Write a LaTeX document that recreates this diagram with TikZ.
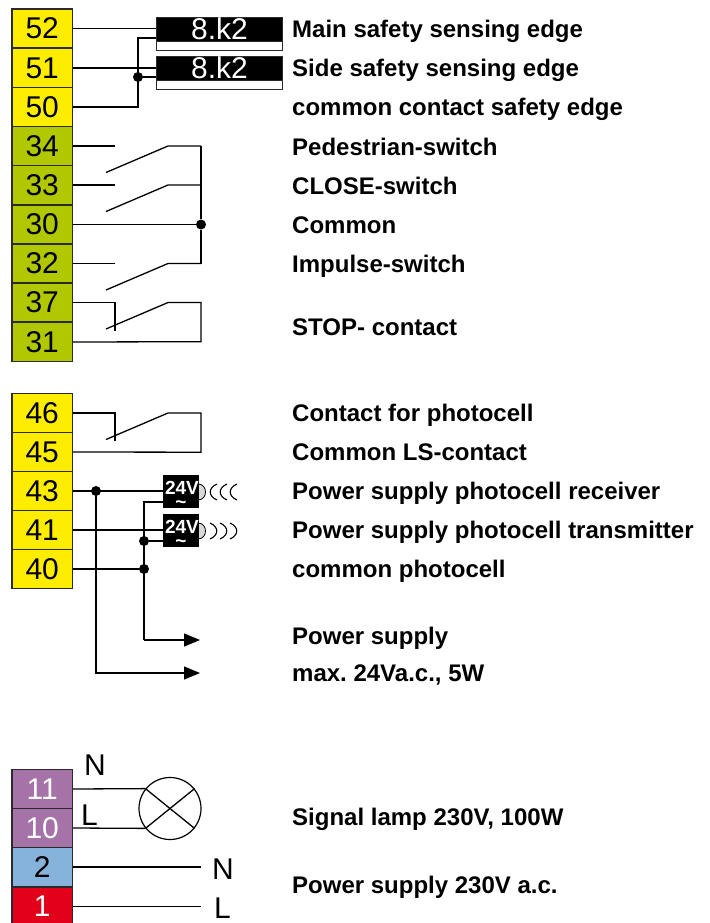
\documentclass[tikz,border=0pt]{standalone}
\usepackage{fontspec}
\setmainfont{Liberation Sans}
\usetikzlibrary{arrows.meta}
\definecolor{tyellow}{HTML}{FFED00}
\definecolor{tolive}{HTML}{B1C800}
\definecolor{tpurple}{HTML}{A573A8}
\definecolor{tblue}{HTML}{85B3DC}
\definecolor{tred}{HTML}{E2001A}
\definecolor{edge}{HTML}{2A2A2A}
\frenchspacing
\tikzset{
  wire/.style={draw=black,line width=1.3pt,line join=miter},
  term/.style={draw=edge,line width=1.2pt,minimum width=60.5pt,minimum height=39pt,inner sep=0pt,
    font=\fontsize{30}{30}\selectfont,anchor=center},
  lbl/.style={anchor=base west,inner sep=0pt,font=\fontsize{24}{24}\bfseries\selectfont},
  big/.style={inner sep=0pt,anchor=base west,font=\fontsize{30}{30}\selectfont},
  jn/.style={circle,fill=black,inner sep=0pt,minimum size=10pt},
  res/.style={draw=edge,fill=black,text=white,line width=1pt,minimum width=126pt,minimum height=24pt,inner sep=0pt,
    font=\fontsize{30}{24}\selectfont,anchor=north west,text height=20pt,text depth=0pt},
  resb/.style={draw=edge,fill=white,line width=1pt,minimum width=126pt,minimum height=9pt,inner sep=0pt,anchor=north west},
  psu/.style={fill=black,text=white,minimum width=36pt,minimum height=33pt,inner sep=0pt,anchor=north west},
  psut/.style={text=white,inner sep=0pt,anchor=base,font=\fontsize{19}{19}\bfseries\selectfont},
  arr/.style={wire,-{Triangle[length=16pt,width=13pt]}},
  wave/.style={draw=black,line width=1.1pt}
}
\begin{document}
\begin{tikzpicture}[x=1pt,y=-1pt]
\useasboundingbox (0,0) rectangle (709,923);
% terminals
\foreach \n/\yc/\col/\tc in {52/28.5/tyellow/black,51/68/tyellow/black,50/107/tyellow/black,
  34/146/tolive/black,33/185/tolive/black,30/224.5/tolive/black,32/263.5/tolive/black,37/302.5/tolive/black,31/342/tolive/black,
  46/413/tyellow/black,45/452/tyellow/black,43/491/tyellow/black,41/530/tyellow/black,40/569/tyellow/black,
  11/789/tpurple/white,10/828/tpurple/white,2/867/tblue/black,1/906.5/tred/white}
  {\node[term,fill=\col,text=\tc] (t\n) at (42.25,\yc) {\n};}
% resistors
\node[resb] (r1b) at (156,41) {};
\node[res] (r1) at (156,17) {8.k2};
\node[resb] (r2b) at (156,80) {};
\node[res] (r2) at (156,56) {8.k2};
% junctions and corners
\node[jn] (j1) at (138,77) {};
\node[jn] (j2) at (201,224.5) {};
\node[jn] (j3) at (96,491) {};
\node[jn] (j4) at (144,541) {};
\node[jn] (j5) at (144,569) {};
\coordinate (c1) at (138,107);
\coordinate (c2) at (138,38);
\coordinate (c3) at (156,38);
\coordinate (c4) at (156,77);
% contacts
\foreach \n/\y in {34/146,33/185,32/263.5}{
  \coordinate (s\n) at (115,\y);
  \coordinate (b\n) at (106,\y+26.5);
  \coordinate (h\n) at (168,\y);
  \coordinate (e\n) at (201,\y);
  \draw[wire] (t\n.east) -- (s\n);
  \draw[wire] (b\n) -- (h\n) -- (e\n);
}
\draw[wire] (e34) -- (j2) -- (e32);
\draw[wire] (t30.east) -- (j2);
\foreach \a/\b/\y in {37/31/302.5,46/45/413}{
  \coordinate (s\a) at (115,\y);
  \coordinate (d\a) at (115,\y+28);
  \coordinate (b\a) at (106,\y+26.5);
  \coordinate (h\a) at (168,\y);
  \coordinate (e\a) at (201,\y);
  \coordinate (f\a) at (201,\y+39.2);
  \draw[wire] (t\a.east) -- (s\a) -- (d\a);
  \draw[wire] (b\a) -- (h\a) -- (e\a) -- (f\a) -- (t\b.east);
}
% safety edge wires
\draw[wire] (t52.east) -- (t52.east -| r1.west);
\draw[wire] (t51.east) -- (t51.east -| r2.west);
\draw[wire] (t50.east) -- (c1) -- (c2) -- (c3);
\draw[wire] (j1) -- (c4);
% emitter / receiver symbols
\draw[draw=black,fill=black!15,line width=.8pt] (197,484) -- (198,484) .. controls (208,484) and (208,500) .. (198,500) -- (197,500) -- cycle;
\draw[draw=black,fill=black!15,line width=.8pt] (197,523) -- (198,523) .. controls (208,523) and (208,539) .. (198,539) -- (197,539) -- cycle;
\foreach \x in {217,227,237}
  \draw[wave] (\x,484) .. controls (\x-9,488) and (\x-9,496) .. (\x,500);
\foreach \x in {210,220,230}
  \draw[wave] (\x,523) .. controls (\x+9,527) and (\x+9,535) .. (\x,539);
% photocell blocks
\node[psu] (p1) at (163,475) {};
\node[psu] (p2) at (163,514) {};
\node[psut] (p1t) at (182,494) {24V};
\node[psut] (p1s) at (181,508) {\textasciitilde};
\node[psut] (p2t) at (182,533) {24V};
\node[psut] (p2s) at (181,547) {\textasciitilde};
\coordinate (p1a) at (163,491);
\coordinate (p1b) at (163,502);
\coordinate (p2a) at (163,530);
\coordinate (p2b) at (163,541);
\coordinate (v1) at (144,502);
\coordinate (a1) at (144,640);
\coordinate (a2) at (96,673);
\coordinate (ae1) at (200,640);
\coordinate (ae2) at (200,673);
\draw[wire] (t43.east) -- (p1a);
\draw[wire] (t41.east) -- (p2a);
\draw[wire] (t40.east) -- (j5);
\draw[wire] (p1b) -- (v1) -- (a1);
\draw[wire] (j4) -- (p2b);
\draw[arr] (a1) -- (ae1);
\draw[arr] (j3) -- (a2) -- (ae2);
% lamp
\node[draw=black,line width=1.2pt,circle,minimum size=62pt,inner sep=0pt] (lamp) at (170,808.5) {};
\draw[wire] (t11.east) -- (lamp.141);
\draw[wire] (t10.east) -- (lamp.219);
\draw[wire] (lamp.141) -- (lamp.321);
\draw[wire] (lamp.39) -- (lamp.219);
\coordinate (n2) at (201,867);
\coordinate (n1) at (201,906.5);
\draw[wire] (t2.east) -- (n2);
\draw[wire] (t1.east) -- (n1);
% big letters
\node[big] (ln1) at (84,775) {N};
\node[big] (ll1) at (81,825) {L};
\node[big] (ln2) at (212,879) {N};
\node[big] (ll2) at (214,918) {L};
% labels
\node[lbl] (a) at (292,38) {Main safety sensing edge};
\node[lbl] (b) at (292,77) {Side safety sensing edge};
\node[lbl] (c) at (292,116) {common contact safety edge};
\node[lbl] (d) at (292,155) {Pedestrian-switch};
\node[lbl] (e) at (292,194) {CLOSE-switch};
\node[lbl] (f) at (292,233) {Common};
\node[lbl] (g) at (292,272) {Impulse-switch};
\node[lbl] (h) at (292,335) {STOP- contact};
\node[lbl] (i) at (292,421) {Contact for photocell};
\node[lbl] (k) at (292,460) {Common LS-contact};
\node[lbl] (l) at (292,499) {Power supply photocell receiver};
\node[lbl] (m) at (292,538) {Power supply photocell transmitter};
\node[lbl] (n) at (292,577) {common photocell};
\node[lbl] (o) at (292,644) {Power supply};
\node[lbl] (p) at (292,681) {max. 24Va.c., 5W};
\node[lbl] (q) at (292,825) {Signal lamp 230V, 100W};
\node[lbl] (r) at (292,893) {Power supply 230V a.c.};
\end{tikzpicture}
\end{document}
